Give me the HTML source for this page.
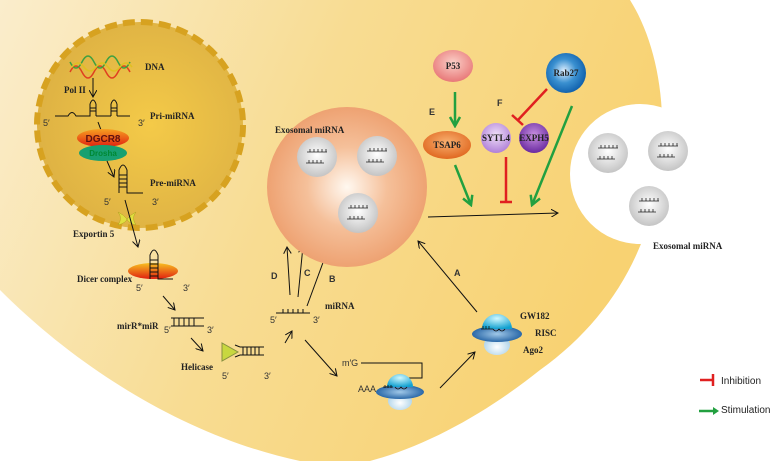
<!DOCTYPE html>
<html><head><style>
body{margin:0;background:#fff}
svg{display:block}
.s{font-family:"Liberation Serif",serif;font-weight:bold;font-size:9px;fill:#222}
.a{font-family:"Liberation Sans",sans-serif;font-size:9px;fill:#333}
</style></head><body>
<svg width="778" height="461" viewBox="0 0 778 461" xmlns="http://www.w3.org/2000/svg">
<defs>
<linearGradient id="cell" x1="0" y1="0" x2="1" y2="0.3">
<stop offset="0" stop-color="#faedcc"/><stop offset="0.5" stop-color="#f8dc92"/><stop offset="1" stop-color="#f8d272"/></linearGradient>
<radialGradient id="nuc" cx="0.55" cy="0.5" r="0.55"><stop offset="0" stop-color="#f4ca48"/><stop offset="1" stop-color="#deb244"/></radialGradient>
<radialGradient id="mvb" cx="0.5" cy="0.5" r="0.5"><stop offset="0" stop-color="#fff8f0"/><stop offset="0.5" stop-color="#f5c09a"/><stop offset="1" stop-color="#eea272"/></radialGradient>
<radialGradient id="ves" cx="0.5" cy="0.45" r="0.55"><stop offset="0" stop-color="#fff"/><stop offset="1" stop-color="#c4c4c4"/></radialGradient>
<linearGradient id="dg" x1="0" y1="0" x2="0" y2="1"><stop offset="0" stop-color="#f7a020"/><stop offset="1" stop-color="#e02010"/></linearGradient>
<linearGradient id="dc" x1="0" y1="0" x2="0" y2="1"><stop offset="0" stop-color="#f8c020"/><stop offset="1" stop-color="#e02010"/></linearGradient>
<radialGradient id="p53" cx="0.5" cy="0.4" r="0.6"><stop offset="0" stop-color="#fbd0c8"/><stop offset="1" stop-color="#e87878"/></radialGradient>
<radialGradient id="ts" cx="0.5" cy="0.4" r="0.6"><stop offset="0" stop-color="#f8b070"/><stop offset="1" stop-color="#e06820"/></radialGradient>
<radialGradient id="sy" cx="0.5" cy="0.4" r="0.6"><stop offset="0" stop-color="#f0e0f8"/><stop offset="1" stop-color="#b080d8"/></radialGradient>
<radialGradient id="ex" cx="0.5" cy="0.4" r="0.6"><stop offset="0" stop-color="#c890e0"/><stop offset="1" stop-color="#6a2aa0"/></radialGradient>
<radialGradient id="rab" cx="0.45" cy="0.45" r="0.6"><stop offset="0" stop-color="#e0f0ff"/><stop offset="0.5" stop-color="#3a90d0"/><stop offset="1" stop-color="#0a5aa8"/></radialGradient>
<radialGradient id="dome" cx="0.5" cy="0.3" r="0.7"><stop offset="0" stop-color="#d0f8ff"/><stop offset="1" stop-color="#10a0d0"/></radialGradient>
<radialGradient id="disc" cx="0.5" cy="0.5" r="0.5"><stop offset="0" stop-color="#a0c8e8"/><stop offset="1" stop-color="#2a68a8"/></radialGradient>
<radialGradient id="bot" cx="0.5" cy="0.6" r="0.6"><stop offset="0" stop-color="#fff"/><stop offset="1" stop-color="#a8d0e8"/></radialGradient>
<marker id="ar" markerWidth="8" markerHeight="8" refX="7" refY="4" orient="auto" markerUnits="userSpaceOnUse"><path d="M0,0 L7,4 L0,8" fill="none" stroke="#111" stroke-width="1"/></marker>
<marker id="ga" markerWidth="12" markerHeight="12" refX="10" refY="6" orient="auto" markerUnits="userSpaceOnUse"><path d="M1,1 L10,6 L1,11" fill="none" stroke="#22a040" stroke-width="2.5"/></marker>
<g id="v"><circle cx="0" cy="0" r="20" fill="url(#ves)"/><path d="M-10,-5 h20 M-7,-5 v-3 M-3,-5 v-3 M1,-5 v-3 M5,-5 v-3 M9,-5 v-3 M-11,6 h18 M-8,6 v-3 M-4,6 v-3 M0,6 v-3 M4,6 v-3" stroke="#222" stroke-width="0.8" fill="none"/></g>
</defs>
<path d="M0,0 L630,0 C655,40 668,100 660,170 C650,250 610,320 540,370 C490,410 430,445 370,461 L300,461 C200,440 90,380 0,290 Z" fill="url(#cell)"/>
<circle cx="640" cy="174" r="70" fill="#fff"/>
<circle cx="140" cy="125" r="103" fill="url(#nuc)" stroke="#d7a220" stroke-width="6" stroke-dasharray="12,6"/>
<g stroke-width="1.5" fill="none">
<path d="M70,72 q6,-12 12,0 t12,0 t12,0 t12,0 t12,0" stroke="#e04020"/>
<path d="M70,62 q6,12 12,0 t12,0 t12,0 t12,0 t12,0" stroke="#40a040"/>
<path d="M72,67 q6,-8 12,0 t12,0 t12,0 t12,0 t12,0" stroke="#e0c020"/>
</g>
<text class="s" x="145" y="70">DNA</text>
<text class="s" x="64" y="93">Pol II</text>
<line x1="93" y1="78" x2="93" y2="97" stroke="#111" marker-end="url(#ar)"/>
<g stroke="#111" fill="none" stroke-width="1">
<path d="M55,116 L68,116 q4,-7 8,0 L90,116 L90,104 M96,116 L96,104 M90,104 q3,-8 6,0 M111,116 L111,104 M117,116 L117,104 M111,104 q3,-8 6,0 M96,116 L111,116 M117,116 L130,116"/>
<path d="M90,108 h6 M90,111 h6 M111,108 h6 M111,111 h6"/>
<line x1="98" y1="122" x2="101" y2="130"/>
</g>
<text class="a" x="43" y="126">5′</text><text class="a" x="138" y="126">3′</text>
<text class="s" x="150" y="119">Pri-miRNA</text>
<ellipse cx="103" cy="138" rx="26" ry="9" fill="url(#dg)"/>
<text x="103" y="142" text-anchor="middle" font-family="Liberation Sans,sans-serif" font-size="10" font-weight="bold" fill="#601010">DGCR8</text>
<ellipse cx="103" cy="153" rx="24" ry="8" fill="#18a070"/>
<text x="103" y="156" text-anchor="middle" font-family="Liberation Sans,sans-serif" font-size="8" font-weight="bold" fill="#083">Drosha</text>
<line x1="107" y1="161" x2="114" y2="177" stroke="#111" marker-end="url(#ar)"/>
<g stroke="#111" fill="none">
<path d="M119,193 L119,170 q4,-10 8,0 L127,193 L143,193"/>
<path d="M119,175 h8 M119,179 h8 M119,183 h8 M119,187 h8"/>
</g>
<text class="s" x="150" y="186">Pre-miRNA</text>
<text class="a" x="104" y="205">5′</text><text class="a" x="152" y="205">3′</text>
<path d="M118,212 q5,6 0,13 q8,-2 9,-6 q-3,-4 -9,-7 Z M136,212 q-5,6 0,13 q-8,-2 -9,-6 q3,-4 9,-7 Z" fill="#e0e040" stroke="#b0a020" stroke-width="0.5"/>
<text class="s" x="73" y="237">Exportin 5</text>
<line x1="125" y1="200" x2="138" y2="247" stroke="#111" marker-end="url(#ar)"/>
<ellipse cx="153" cy="271" rx="25" ry="8" fill="url(#dc)"/>
<g stroke="#111" fill="none"><path d="M150,279 L150,255 q4,-10 8,0 L158,279 L173,279"/><path d="M150,260 h8 M150,264 h8 M150,268 h8 M150,272 h8 M150,276 h8"/></g>
<text class="s" x="77" y="282">Dicer complex</text>
<text class="a" x="136" y="291">5′</text><text class="a" x="183" y="291">3′</text>
<line x1="163" y1="296" x2="175" y2="310" stroke="#111" marker-end="url(#ar)"/>
<text class="s" x="117" y="329">mirR*miR</text>
<g stroke="#111" fill="none"><path d="M171,318 h33 M171,326 h33 M174,318 v8 M179,318 v8 M184,318 v8 M189,318 v8 M194,318 v8"/></g>
<text class="a" x="164" y="333">5′</text><text class="a" x="207" y="333">3′</text>
<line x1="191" y1="338" x2="203" y2="351" stroke="#111" marker-end="url(#ar)"/>
<text class="s" x="181" y="370">Helicase</text>
<path d="M222,343 L222,361 L238,352 Z" fill="#c8d840" stroke="#889040"/>
<g stroke="#111" fill="none"><path d="M240,347 h24 M240,355 h24 M243,347 v8 M247,347 v8 M251,347 v8 M255,347 v8 M259,347 v8 M235,345 l5,2 M235,357 l5,-2"/></g>
<text class="a" x="222" y="379">5′</text><text class="a" x="264" y="379">3′</text>
<line x1="285" y1="343" x2="292" y2="331" stroke="#111" marker-end="url(#ar)"/>
<g stroke="#111" fill="none"><path d="M276,313 h34 M283,313 v-4 M288,313 v-4 M293,313 v-4 M298,313 v-4 M303,313 v-4"/></g>
<text class="a" x="270" y="323">5′</text><text class="a" x="313" y="323">3′</text>
<text class="s" x="325" y="309">miRNA</text>
<line x1="290" y1="295" x2="287" y2="247" stroke="#111" marker-end="url(#ar)"/>
<line x1="298" y1="297" x2="303" y2="246" stroke="#111" marker-end="url(#ar)"/>
<line x1="307" y1="306" x2="328" y2="249" stroke="#111" marker-end="url(#ar)"/>
<text class="a" x="271" y="279" font-weight="bold">D</text>
<text class="a" x="304" y="276" font-weight="bold">C</text>
<text class="a" x="329" y="282" font-weight="bold">B</text>
<line x1="305" y1="340" x2="337" y2="376" stroke="#111" marker-end="url(#ar)"/>
<text class="a" x="342" y="366" font-size="8">m′G</text>
<path d="M361,363 H422 V378 H405" stroke="#111" fill="none"/>
<text class="a" x="358" y="392" font-size="8">AAA</text>
<ellipse cx="400" cy="401" rx="12" ry="9" fill="url(#bot)"/>
<ellipse cx="400" cy="392" rx="24" ry="7" fill="url(#disc)"/>
<path d="M387,387 a13,13 0 0 1 26,0 Z" fill="url(#dome)"/>
<path d="M383,387 h10 M385,385 v3 M388,385 v3 M391,385 v3 M395,387 q3,4 6,0 q3,4 6,0" stroke="#111" fill="none" stroke-width="0.8"/>
<line x1="440" y1="388" x2="475" y2="352" stroke="#111" marker-end="url(#ar)"/>
<ellipse cx="497" cy="345" rx="13" ry="10" fill="url(#bot)"/>
<ellipse cx="497" cy="334" rx="25" ry="8" fill="url(#disc)"/>
<path d="M482,329 a15,15 0 0 1 30,0 Z" fill="url(#dome)"/>
<path d="M481,329 h12 M483,326 v3 M486,326 v3 M489,326 v3 M493,329 q3,4 6,0 q3,4 6,0" stroke="#111" fill="none" stroke-width="0.8"/>
<text class="s" x="520" y="319">GW182</text>
<text class="s" x="535" y="336">RISC</text>
<text class="s" x="523" y="353">Ago2</text>
<line x1="477" y1="312" x2="418" y2="241" stroke="#111" marker-end="url(#ar)"/>
<text class="a" x="454" y="276" font-weight="bold">A</text>
<circle cx="347" cy="187" r="80" fill="url(#mvb)"/>
<text class="s" x="275" y="133">Exosomal miRNA</text>
<use href="#v" x="317" y="157"/><use href="#v" x="377" y="156"/><use href="#v" x="358" y="213"/>
<use href="#v" x="608" y="153"/><use href="#v" x="668" y="151"/><use href="#v" x="649" y="206"/>
<text class="s" x="653" y="249" font-size="8">Exosomal miRNA</text>
<line x1="428" y1="217" x2="558" y2="213" stroke="#111" marker-end="url(#ar)"/>
<ellipse cx="453" cy="66" rx="20" ry="16" fill="url(#p53)"/>
<text class="s" x="453" y="69" text-anchor="middle">P53</text>
<line x1="455" y1="92" x2="455" y2="126" stroke="#22a040" stroke-width="2.5" marker-end="url(#ga)"/>
<text class="a" x="429" y="115" font-weight="bold" font-size="8">E</text>
<ellipse cx="447" cy="145" rx="24" ry="14" fill="url(#ts)"/>
<text class="s" x="447" y="148" text-anchor="middle" fill="#331">TSAP6</text>
<circle cx="496" cy="138" r="15" fill="url(#sy)"/>
<text class="s" x="496" y="141" text-anchor="middle" font-size="8">SYTL4</text>
<circle cx="534" cy="138" r="15" fill="url(#ex)"/>
<text class="s" x="534" y="141" text-anchor="middle" font-size="8">EXPH5</text>
<text class="a" x="497" y="106" font-weight="bold" font-size="8">F</text>
<circle cx="566" cy="73" r="20" fill="url(#rab)"/>
<text class="s" x="566" y="76" text-anchor="middle" fill="#123">Rab27</text>
<line x1="547" y1="89" x2="518" y2="120" stroke="#e02020" stroke-width="2.5"/>
<line x1="512" y1="115" x2="523" y2="125" stroke="#e02020" stroke-width="2.5"/>
<line x1="506" y1="157" x2="506" y2="202" stroke="#e02020" stroke-width="2.5"/>
<line x1="500" y1="202" x2="512" y2="202" stroke="#e02020" stroke-width="2.5"/>
<line x1="455" y1="165" x2="471" y2="205" stroke="#22a040" stroke-width="2.5" marker-end="url(#ga)"/>
<line x1="572" y1="106" x2="532" y2="205" stroke="#22a040" stroke-width="2.5" marker-end="url(#ga)"/>
<line x1="700" y1="380" x2="713" y2="380" stroke="#e02020" stroke-width="2.5"/>
<line x1="713" y1="374" x2="713" y2="386" stroke="#e02020" stroke-width="2.5"/>
<text x="721" y="384" font-family="Liberation Sans,sans-serif" font-size="10" fill="#222">Inhibition</text>
<line x1="699" y1="411" x2="716" y2="411" stroke="#22a040" stroke-width="2.5"/>
<path d="M713,407 L719,411 L713,415 Z" fill="#22a040"/>
<text x="721" y="413" font-family="Liberation Sans,sans-serif" font-size="10" fill="#222">Stimulation</text>
</svg>
</body></html>
